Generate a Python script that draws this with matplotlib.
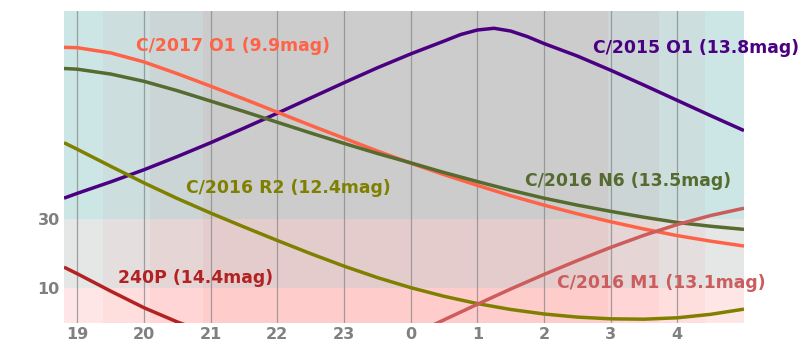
import matplotlib
matplotlib.use("Agg")
import matplotlib.pyplot as plt

# ---- data (hours past midnight continue beyond 24) ----
hours_o1_2015 = [18.8, 19, 19.5, 20, 20.5, 21, 21.5, 22, 22.5, 23, 23.5, 24, 24.5, 24.75, 25, 25.25,
                 25.5, 25.75, 26, 26.5, 27, 27.5, 28, 28.5, 29]
alt_o1_2015 = [36.0, 37.4, 40.7, 44.2, 48.0, 52.0, 56.2, 60.5, 64.9, 69.3, 73.6, 77.6, 81.3, 83.2, 84.5, 85.0,
               84.2, 82.6, 80.6, 77.0, 72.9, 68.6, 64.2, 59.8, 55.5]

hours_o1_2017 = [18.8, 19, 19.5, 20, 20.5, 21, 21.5, 22, 22.5, 23, 23.5, 24, 24.5, 25, 25.5,
                 26, 26.5, 27, 27.5, 28, 28.5, 29]
alt_o1_2017 = [79.5, 79.4, 77.9, 75.3, 71.9, 68.3, 64.6, 60.8, 57.0, 53.3, 49.6, 46.1, 42.8, 39.7, 36.7,
               34.0, 31.5, 29.2, 27.1, 25.2, 23.6, 22.2]

hours_n6 = [18.8, 19, 19.5, 20, 20.5, 21, 21.5, 22, 22.5, 23, 23.5, 24, 24.5, 25, 25.5,
            26, 26.5, 27, 27.5, 28, 28.5, 29]
alt_n6 = [73.4, 73.2, 71.8, 69.7, 67.0, 64.0, 61.0, 57.9, 54.8, 51.8, 48.9, 46.2, 43.4, 40.8, 38.3,
          36.0, 34.0, 32.2, 30.5, 29.0, 27.9, 27.0]

hours_r2 = [18.8, 19, 19.5, 20, 20.5, 21, 21.5, 22, 22.5, 23, 23.5, 24, 24.5, 25, 25.5,
            26, 26.5, 27, 27.5, 28, 28.5, 29]
alt_r2 = [52.0, 50.1, 45.2, 40.4, 35.9, 31.7, 27.7, 23.8, 20.0, 16.4, 13.1, 10.2, 7.7, 5.6, 3.9,
          2.6, 1.7, 1.2, 1.1, 1.5, 2.5, 4.0]

hours_240p = [18.8, 19, 19.5, 20, 20.5, 21]
alt_240p = [16.1, 14.2, 9.2, 4.4, 0.3, -3.3]

hours_m1 = [24, 24.5, 25, 25.5, 26, 26.5, 27, 27.5, 28, 28.5, 29]
alt_m1 = [-3.6, 0.9, 5.4, 9.8, 14.0, 18.0, 21.8, 25.3, 28.4, 31.0, 33.1]

series_names = ["C/2015 O1 (13.8mag)", "C/2017 O1 (9.9mag)", "C/2016 N6 (13.5mag)",
                "C/2016 R2 (12.4mag)", "240P (14.4mag)", "C/2016 M1 (13.1mag)"]
series_colors = ["#4b0082", "#ff6347", "#556b2f", "#808000", "#b22222", "#cd5c5c"]

# twilight boundaries (hours) and sky shade levels
twilight_edges = [18.8, 19.39, 20.09, 20.89, 26.955, 27.73, 28.42, 29.0]
twilight_shade = [230, 222, 213, 204, 213, 222, 230]
alt_edges = [0, 10, 30, 90]
alt_red = [255, 229, 204]

x_ticks = list(range(19, 29))
x_labels = [str(h % 24) for h in x_ticks]
y_ticks = [10, 30]

# ---- figure ----
fig = plt.figure(figsize=(8, 3.53), dpi=100)
ax = fig.add_axes([0.08, 0.085, 0.85, 0.884])

for i in range(len(twilight_shade)):
    c = twilight_shade[i] / 255
    for j in range(len(alt_red)):
        r = alt_red[j] / 255
        ax.fill_between([twilight_edges[i], twilight_edges[i + 1]],
                        alt_edges[j], alt_edges[j + 1],
                        color=(r, c, c), lw=0, zorder=0)

for h in x_ticks:
    ax.axvline(h, color="#8c8c8c", lw=0.9, alpha=0.8, zorder=1)

xs = [hours_o1_2015, hours_o1_2017, hours_n6, hours_r2, hours_240p, hours_m1]
ys = [alt_o1_2015, alt_o1_2017, alt_n6, alt_r2, alt_240p, alt_m1]
for x, y, col in zip(xs, ys, series_colors):
    ax.plot(x, y, color=col, lw=2.5, solid_capstyle="butt", solid_joinstyle="round", zorder=3)

label_pos = [(26.74, 79.3), (19.885, 79.9), (25.72, 41.0),
             (20.63, 38.9), (19.61, 13.0), (26.2, 11.5)]
for name, col, (lx, ly) in zip(series_names, series_colors, label_pos):
    ax.text(lx, ly, name, color=col, fontsize=12.4, fontweight="bold",
            ha="left", va="center", zorder=4, clip_on=False)

ax.set_xlim(18.8, 29.0)
ax.set_ylim(0, 90)
ax.set_xticks(x_ticks)
ax.set_xticklabels(x_labels)
ax.set_yticks(y_ticks)
ax.tick_params(length=0, labelsize=11.5, labelcolor="#808080", pad=3)
for lab in ax.get_xticklabels() + ax.get_yticklabels():
    lab.set_fontweight("bold")
for s in ax.spines.values():
    s.set_visible(False)

fig.savefig("out.png", dpi=100)
